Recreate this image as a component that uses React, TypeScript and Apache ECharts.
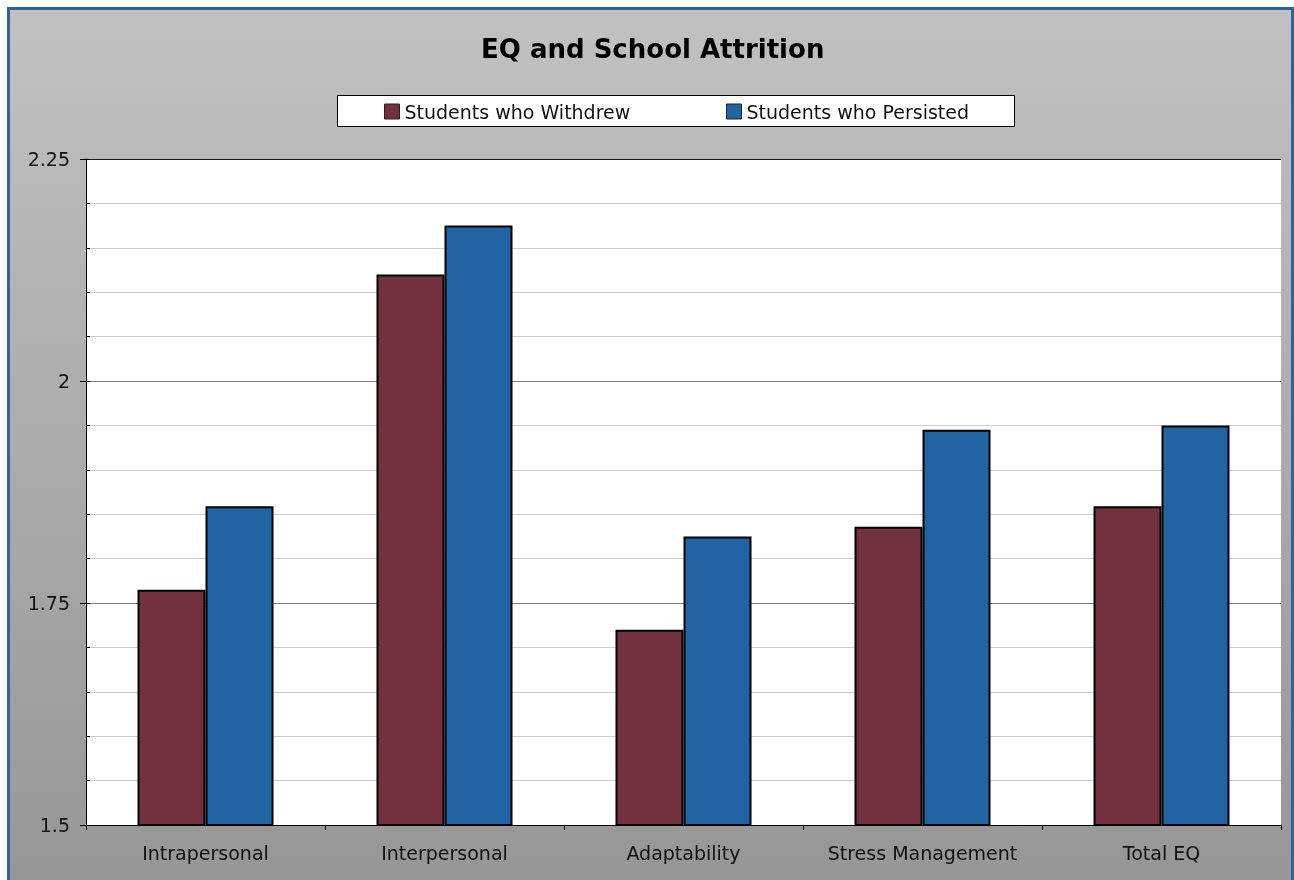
import React, { useEffect, useRef } from 'react';
import * as echarts from 'echarts';

const chartTitle = 'EQ and School Attrition';
const categories = ['Intrapersonal', 'Interpersonal', 'Adaptability', 'Stress Management', 'Total EQ'];
const seriesNames = ['Students who Withdrew', 'Students who Persisted'];
const withdrew = [1.765, 2.12, 1.72, 1.836, 1.859];
const persisted = [1.859, 2.175, 1.825, 1.945, 1.95];
const yMin = 1.5;
const yMax = 2.25;
const yInterval = 0.25;

export default function App() {
  const ref = useRef<HTMLDivElement>(null);
  useEffect(() => {
    const chart = echarts.init(ref.current!, null, { renderer: 'svg' });
    const font = '"DejaVu Sans", Verdana, sans-serif';
    chart.setOption({
      animation: false,
      title: {
        text: chartTitle,
        left: 481,
        top: 36,
        padding: 0,
        textStyle: { fontFamily: font, fontSize: 26, fontWeight: 'bold', color: '#000' },
      },
      graphic: [
        {
          type: 'rect',
          z: -10,
          shape: { x: 8.5, y: 8.5, width: 1284, height: 900 },
          style: {
            fill: new echarts.graphic.LinearGradient(0, 0, 0, 1, [
              { offset: 0, color: '#c1c1c1' },
              { offset: 1, color: '#959595' },
            ]),
            stroke: '#2a64a6',
            lineWidth: 3,
          },
        },
        {
          type: 'rect',
          z: 1,
          shape: { x: 337.5, y: 95.5, width: 677, height: 31 },
          style: { fill: '#ffffff', stroke: '#000000', lineWidth: 1 },
        },
      ],
      legend: [
        {
          data: [seriesNames[0]],
          left: 384,
          top: 102,
          padding: 0,
          itemWidth: 15,
          itemHeight: 15,
          icon: 'rect',
          itemStyle: { borderColor: '#222', borderWidth: 1 },
          textStyle: { fontFamily: font, fontSize: 19, color: '#111' },
        },
        {
          data: [seriesNames[1]],
          left: 726,
          top: 102,
          padding: 0,
          itemWidth: 15,
          itemHeight: 15,
          icon: 'rect',
          itemStyle: { borderColor: '#222', borderWidth: 1 },
          textStyle: { fontFamily: font, fontSize: 19, color: '#111' },
        },
      ],
      grid: {
        left: 86,
        top: 159,
        right: 13,
        bottom: 55,
        show: true,
        backgroundColor: '#ffffff',
        borderWidth: 0,
        containLabel: false,
      },
      xAxis: {
        type: 'category',
        data: categories,
        axisLine: { show: true, lineStyle: { color: '#000', width: 1 } },
        axisTick: { show: true, interval: 0, length: 5, lineStyle: { color: '#000' } },
        axisLabel: { interval: 0, fontFamily: font, fontSize: 19, color: '#111', margin: 18 },
        splitLine: { show: false },
      },
      yAxis: [
        {
          type: 'value',
          min: yMin,
          max: yMax,
          interval: yInterval,
          position: 'left',
          axisLine: { show: true, lineStyle: { color: '#000', width: 1 } },
          axisTick: { show: true, length: 6, lineStyle: { color: '#000' } },
          axisLabel: { fontFamily: font, fontSize: 19, color: '#111', margin: 16 },
          splitLine: {
            show: true,
            lineStyle: { color: ['#7a7a7a', '#7a7a7a', '#7a7a7a', '#1a1a1a'], width: 1 },
          },
          minorTick: { show: false, splitNumber: 5 },
          minorSplitLine: { show: true, lineStyle: { color: '#cccccc', width: 1 } },
        },
        {
          type: 'value',
          min: yMin,
          max: yMax,
          interval: 0.05,
          position: 'left',
          offset: 0,
          axisLine: { show: false },
          axisTick: { show: true, inside: true, length: 4, lineStyle: { color: '#000' } },
          axisLabel: { show: false },
          splitLine: { show: false },
        },
      ],
      series: [
        {
          name: seriesNames[0],
          type: 'bar',
          data: withdrew,
          barWidth: 68,
          barGap: '0%',
          itemStyle: { color: '#73313f', borderColor: '#000', borderWidth: 2 },
        },
        {
          name: seriesNames[1],
          type: 'bar',
          data: persisted,
          barWidth: 68,
          barGap: '0%',
          itemStyle: { color: '#2064a4', borderColor: '#000', borderWidth: 2 },
        },
      ],
    });
    return () => chart.dispose();
  }, []);
  return <div ref={ref} style={{ position: 'fixed', left: 0, top: 0, width: 1294, height: 880 }} />;
}
